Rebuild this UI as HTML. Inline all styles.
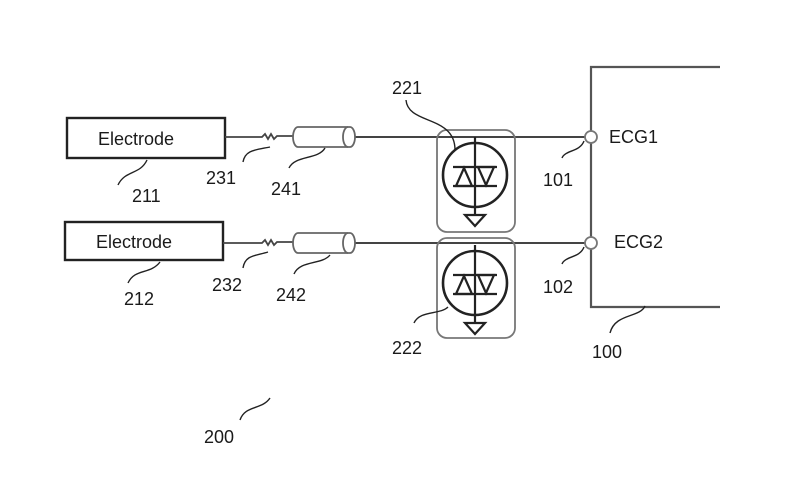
<!DOCTYPE html>
<html><head><meta charset="utf-8"><style>
html,body{margin:0;padding:0;background:#fff;}
svg{display:block;}
text{font-family:"Liberation Sans",sans-serif;fill:#1a1a1a;}
</style></head><body>
<svg width="796" height="484" viewBox="0 0 796 484" xmlns="http://www.w3.org/2000/svg">
<g fill="none" stroke="#222" stroke-width="2">
<rect x="67" y="118" width="158" height="40" stroke-width="2.4"/>
<rect x="65" y="222" width="158" height="38" stroke-width="2.4"/>
<path d="M225 137 H262 l3 -3 l3 5 l3 -5 l3 5 l3 -3 H293" stroke-width="1.8" stroke="#444"/>
<path d="M223 243 H262 l3 -3 l3 5 l3 -5 l3 5 l3 -3 H293" stroke-width="1.8" stroke="#444"/>
<path d="M355 137 H585" stroke="#444"/>
<path d="M355 243 H585" stroke="#444"/>
<g stroke="#666" stroke-width="1.8">
<path d="M298 127 H350 A5 10 0 0 1 350 147 H298 A5 10 0 0 1 298 127 Z"/>
<path d="M348 127 A5 10 0 0 0 348 147"/>
<path d="M298 233 H350 A5 10 0 0 1 350 253 H298 A5 10 0 0 1 298 233 Z"/>
<path d="M348 233 A5 10 0 0 0 348 253"/>
</g>
<rect x="437" y="130" width="78" height="102" rx="10" stroke="#777" stroke-width="1.8"/>
<rect x="437" y="238" width="78" height="100" rx="10" stroke="#777" stroke-width="1.8"/>
<g id="tvs">
<circle cx="475" cy="175" r="32" stroke-width="2.6"/>
<path d="M475 137 V215" stroke-width="2.2"/>
<path d="M453 167 H497 M453 186 H497" stroke-width="2.2"/>
<path d="M456 186 L464 168 L472 186 Z M478 167 L486 185 L494 167 Z" stroke-width="2.2"/>
<path d="M465 215 H485 L475 226 Z" stroke-width="2.2"/>
</g>
<use href="#tvs" y="108"/>
<path d="M720 67 H591 V307 H720" stroke="#555" stroke-width="2.2"/>
<circle cx="591" cy="137" r="6" fill="#fff" stroke="#777" stroke-width="1.8"/>
<circle cx="591" cy="243" r="6" fill="#fff" stroke="#777" stroke-width="1.8"/>
<g stroke="#222" stroke-width="1.4">
<path d="M147 160 C140 175 125 170 118 185"/>
<path d="M160 262 C150 275 135 268 128 283"/>
<path d="M270 147 C255 150 245 150 243 162"/>
<path d="M268 252 C255 256 245 255 243 268"/>
<path d="M325 148 C318 160 295 155 289 168"/>
<path d="M330 255 C322 265 300 260 294 274"/>
<path d="M406 100 C408 125 455 115 455 150"/>
<path d="M448 307 C440 315 420 310 414 323"/>
<path d="M584 141 C580 152 565 150 562 158"/>
<path d="M584 247 C580 258 565 256 562 264"/>
<path d="M645 306 C640 318 615 313 610 333"/>
<path d="M270 398 C262 410 245 405 240 420"/>
</g>
</g>
<g font-size="18">
<text x="98" y="145">Electrode</text>
<text x="96" y="248">Electrode</text>
<text x="132" y="202">211</text>
<text x="124" y="305">212</text>
<text x="206" y="184">231</text>
<text x="212" y="291">232</text>
<text x="271" y="195">241</text>
<text x="276" y="301">242</text>
<text x="392" y="94">221</text>
<text x="392" y="354">222</text>
<text x="543" y="186">101</text>
<text x="543" y="293">102</text>
<text x="609" y="143">ECG1</text>
<text x="614" y="248">ECG2</text>
<text x="592" y="358">100</text>
<text x="204" y="443">200</text>
</g>
</svg>
</body></html>
